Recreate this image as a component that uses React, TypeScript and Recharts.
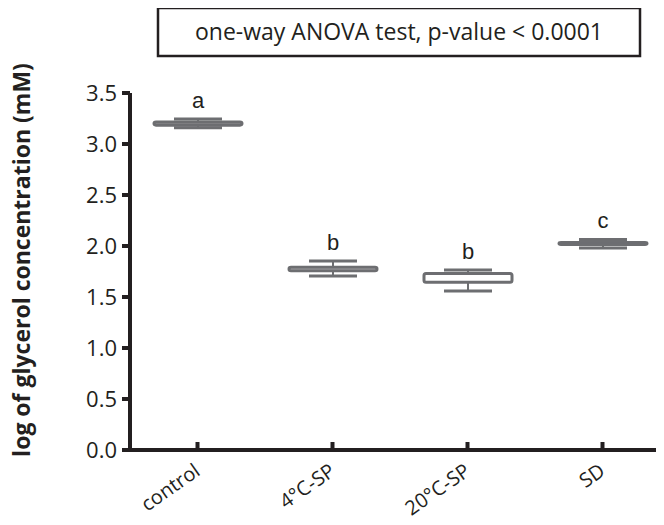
import React from 'react';
import { BarChart, Bar, XAxis, YAxis } from 'recharts';

const categories = ['control', '4°C-SP', '20°C-SP', 'SD'];
const mins = [3.16, 1.705, 1.56, 1.98];
const q1s = [3.185, 1.757, 1.645, 2.015];
const medians = [3.2, 1.775, 1.725, 2.025];
const q3s = [3.215, 1.792, 1.73, 2.034];
const maxs = [3.245, 1.853, 1.765, 2.064];
const letters = ['a', 'b', 'b', 'c'];
const yTicks = [0, 0.5, 1.0, 1.5, 2.0, 2.5, 3.0, 3.5];

const data = categories.map((c, i) => ({
  name: c,
  range: [mins[i], maxs[i]],
  min: mins[i],
  q1: q1s[i],
  median: medians[i],
  q3: q3s[i],
  max: maxs[i],
  letter: letters[i],
}));

const INK = '#231f20';
const BOXC = '#6d6e71';

const BoxShape = (props: any) => {
  const { x, y, width, height, payload } = props;
  const { min, max, q1, q3, median, letter } = payload;
  const top = Math.min(y, y + height);
  const bottom = Math.max(y, y + height);
  const py = (v: number) => bottom - ((bottom - top) * (v - min)) / (max - min);
  const cx = x + width / 2;
  const capHalf = 24;
  return (
    <g>
      <line x1={cx} x2={cx} y1={py(max)} y2={py(q3)} stroke={BOXC} strokeWidth={2} />
      <line x1={cx} x2={cx} y1={py(q1)} y2={py(min)} stroke={BOXC} strokeWidth={2} />
      <line x1={cx - capHalf} x2={cx + capHalf} y1={py(max)} y2={py(max)} stroke={BOXC} strokeWidth={3} />
      <line x1={cx - capHalf} x2={cx + capHalf} y1={py(min)} y2={py(min)} stroke={BOXC} strokeWidth={3} />
      <rect
        x={x}
        y={py(q3)}
        width={width}
        height={py(q1) - py(q3)}
        fill="#ffffff"
        stroke={BOXC}
        strokeWidth={3}
        rx={2}
        strokeLinejoin="round"
      />
      <line x1={x} x2={x + width} y1={py(median)} y2={py(median)} stroke={BOXC} strokeWidth={1} opacity={0.6} />
      <text
        x={cx}
        y={py(max) - 11}
        textAnchor="middle"
        fontFamily="'Liberation Sans', Arial, sans-serif"
        fontSize={22}
        fill={INK}
      >
        {letter}
      </text>
    </g>
  );
};

const XTick = (props: any) => {
  const { x, y, payload } = props;
  return (
    <g>
      <line x1={x} x2={x} y1={y} y2={y - 8} stroke={INK} strokeWidth={4} />
      <text
        transform={`translate(${x + 4},${y + 24}) rotate(-35)`}
        textAnchor="end"
        fontFamily="'Open Sans', sans-serif"
        fontSize={20}
        fill={INK}
      >
        {payload.value}
      </text>
    </g>
  );
};

export default function App() {
  return (
    <div style={{ margin: -8, width: 664, height: 525, overflow: 'hidden', position: 'relative', background: '#fff' }}>
      <BarChart
        width={680}
        height={525}
        data={data}
        margin={{ top: 93, right: 10, bottom: 0, left: 0 }}
      >
        <XAxis
          dataKey="name"
          height={75}
          axisLine={{ stroke: INK, strokeWidth: 4 }}
          tickLine={false}
          tickSize={0}
          tickMargin={0}
          tick={<XTick />}
          interval={0}
        />
        <YAxis
          width={130}
          domain={[0, 3.5]}
          ticks={yTicks}
          allowDataOverflow
          tickFormatter={(v: number) => v.toFixed(1)}
          axisLine={{ stroke: INK, strokeWidth: 4 }}
          tickLine={{ stroke: INK, strokeWidth: 4 }}
          tickSize={8}
          tickMargin={5}
          tick={{ fontFamily: "'Open Sans', sans-serif", fontSize: 22, fill: INK }}
        />
        <Bar dataKey="range" barSize={88} shape={<BoxShape />} isAnimationActive={false} />
      </BarChart>
      <svg width={664} height={525} style={{ position: 'absolute', left: 0, top: 0, pointerEvents: 'none' }}>
        <rect x={158} y={8} width={482} height={48} fill="none" stroke={INK} strokeWidth={2.5} />
        <text
          x={399}
          y={40}
          textAnchor="middle"
          fontFamily="'Open Sans', sans-serif"
          fontSize={23}
          fill={INK}
        >
          one-way ANOVA test, p-value &lt; 0.0001
        </text>
        <text
          transform="translate(30,260) rotate(-90)"
          textAnchor="middle"
          fontFamily="'Open Sans', sans-serif"
          fontWeight="bold"
          fontSize={23}
          fill={INK}
        >
          log of glycerol concentration (mM)
        </text>
      </svg>
    </div>
  );
}
